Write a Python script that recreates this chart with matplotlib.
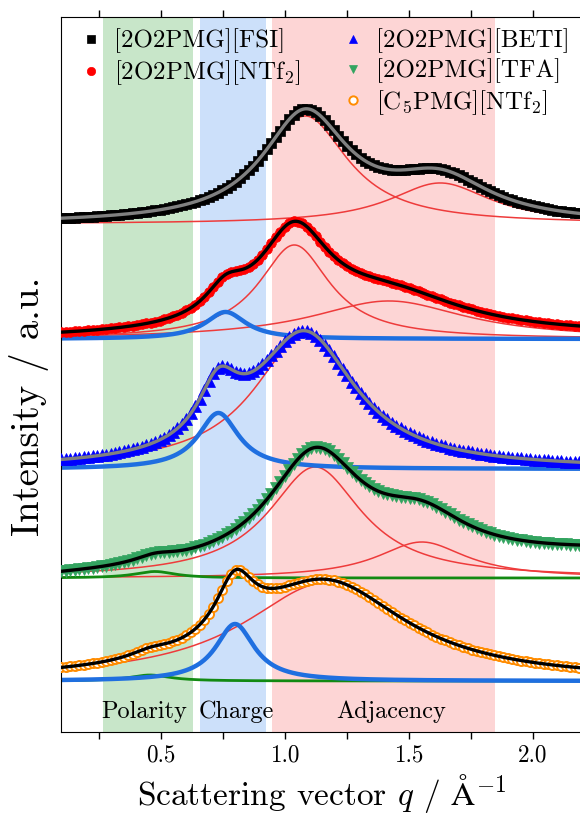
import numpy as np
import matplotlib
matplotlib.use("Agg")
import matplotlib.pyplot as plt
from matplotlib.lines import Line2D

plt.rcParams["font.family"] = "serif"
plt.rcParams["font.serif"] = ["cmr10"]
plt.rcParams["mathtext.fontset"] = "cm"
plt.rcParams["axes.formatter.use_mathtext"] = True

# -----------------------------
# Data (y in arbitrary units, stacked)
# -----------------------------
labels = ["[2O2PMG][FSI]", "[2O2PMG][NTf$_2$]", "[2O2PMG][BETI]",
          "[2O2PMG][TFA]", "[C$_5$PMG][NTf$_2$]"]
baselines = [507.5, 392.5, 262.5, 153.5, 50.5]
bg_offset = [0, 0, 0, -1, 0]
bg_slope = [0, 1.5, 0, 11.5, 0]

# peak components: centre (1/A), half width (1/A), height, region
fsi_centers = [1.083, 1.627]
fsi_widths = [0.21, 0.25]
fsi_heights = [108, 41]
fsi_kinds = ["adj", "adj"]

ntf2_centers = [0.762, 1.039, 1.42]
ntf2_widths = [0.10, 0.175, 0.38]
ntf2_heights = [27, 94, 38]
ntf2_kinds = ["charge", "adj", "adj"]

beti_centers = [0.733, 1.082]
beti_widths = [0.10, 0.25]
beti_heights = [56, 134]
beti_kinds = ["charge", "adj"]

tfa_centers = [0.477, 1.123, 1.553]
tfa_widths = [0.10, 0.23, 0.22]
tfa_heights = [6.5, 111, 36]
tfa_kinds = ["pol", "adj", "adj"]

c5_centers = [0.457, 0.80, 1.165]
c5_widths = [0.10, 0.095, 0.40]
c5_heights = [6, 57, 98]
c5_kinds = ["pol", "charge", "adj"]

components = [
    (fsi_centers, fsi_widths, fsi_heights, fsi_kinds),
    (ntf2_centers, ntf2_widths, ntf2_heights, ntf2_kinds),
    (beti_centers, beti_widths, beti_heights, beti_kinds),
    (tfa_centers, tfa_widths, tfa_heights, tfa_kinds),
    (c5_centers, c5_widths, c5_heights, c5_kinds),
]

regions = [(0.267, 0.631, "Polarity"), (0.659, 0.923, "Charge"), (0.949, 1.847, "Adjacency")]
region_label_x = [0.433, 0.807, 1.43]

# -----------------------------
# Styles
# -----------------------------
marker_styles = [
    dict(marker="s", color="black", ms=6.5),
    dict(marker="o", color="red", ms=7),
    dict(marker="^", color="blue", ms=8),
    dict(marker="v", color="#33a460", ms=8),
    dict(marker="o", color="#ff8c00", ms=6.5, mfc="white", mew=1.4),
]
fit_colors = ["#808080", "black", "#808080", "black", "black"]
comp_style = {
    "adj": dict(color="#ee3b3b", lw=1.1, zorder=2),
    "charge": dict(color="#1f6fe0", lw=3.2, zorder=2.5),
    "pol": dict(color="#128a12", lw=2.0, zorder=2.5),
}
region_colors = ["#c8e6c9", "#cce0fa", "#fdd5d5"]


def lorentz(q, c, w, h):
    return h / (1 + ((q - c) / w) ** 2)


q = np.linspace(0.1, 2.2, 600)
q_pts = np.arange(0.1, 2.2, 0.018)

fig = plt.figure(figsize=(5.8, 8.21), dpi=100)
ax = fig.add_axes([0.1059, 0.109, 0.898, 0.870])

for (lo, hi, name), col, xl in zip(regions, region_colors, region_label_x):
    ax.axvspan(lo, hi, color=col, lw=0, zorder=0)
    ax.text(xl, 19.8, name, ha="center", va="center", fontsize=17.5, zorder=5)

handles = []
for i, (cen, wid, hei, kinds) in enumerate(components):
    base = baselines[i]
    total = base + bg_offset[i] + bg_slope[i] * q
    total_pts = base + bg_offset[i] + bg_slope[i] * q_pts
    for c, w, h, k in zip(cen, wid, hei, kinds):
        ax.plot(q, base + lorentz(q, c, w, h), **comp_style[k])
        total = total + lorentz(q, c, w, h)
        total_pts = total_pts + lorentz(q_pts, c, w, h)
    st = marker_styles[i]
    ax.plot(q_pts, total_pts, ls="none", marker=st["marker"], color=st["color"],
            ms=st["ms"], mfc=st.get("mfc", st["color"]), mew=st.get("mew", 0.5), zorder=3)
    ax.plot(q, total, color=fit_colors[i], lw=2.4, zorder=4)
    handles.append(Line2D([], [], ls="none", marker=st["marker"], color=st["color"],
                          ms=6, mfc=st.get("mfc", st["color"]), mew=st.get("mew", 0.5)))

leg_kw = dict(frameon=False, fontsize=18, handlelength=0.8, handletextpad=0.5,
              labelspacing=0.2, borderpad=0, borderaxespad=0, loc="upper left")
leg1 = ax.legend(handles[:2], labels[:2], bbox_to_anchor=(0.0376, 0.984), **leg_kw)
ax.add_artist(leg1)
ax.legend(handles[2:], labels[2:], bbox_to_anchor=(0.541, 0.984), **leg_kw)

ax.set_xlim(0.1, 2.2)
ax.set_ylim(0, 714.2)
ax.set_xticks([0.5, 1.0, 1.5, 2.0])
ax.set_xticks([0.25, 0.75, 1.25, 1.75], minor=True)
ax.set_xticklabels(["0.5", "1.0", "1.5", "2.0"])
ax.set_yticks([])
ax.tick_params(axis="x", which="both", direction="out", length=5, width=1,
               top=True, labelsize=16.7, pad=4)
ax.set_xlabel(r"Scattering vector $q$ / $\mathrm{\AA}^{-1}$", fontsize=24, labelpad=4)
ax.set_ylabel("Intensity / a.u.", fontsize=28)
ax.yaxis.set_label_coords(-0.024, 0.455)

fig.savefig("out.png", dpi=100)
